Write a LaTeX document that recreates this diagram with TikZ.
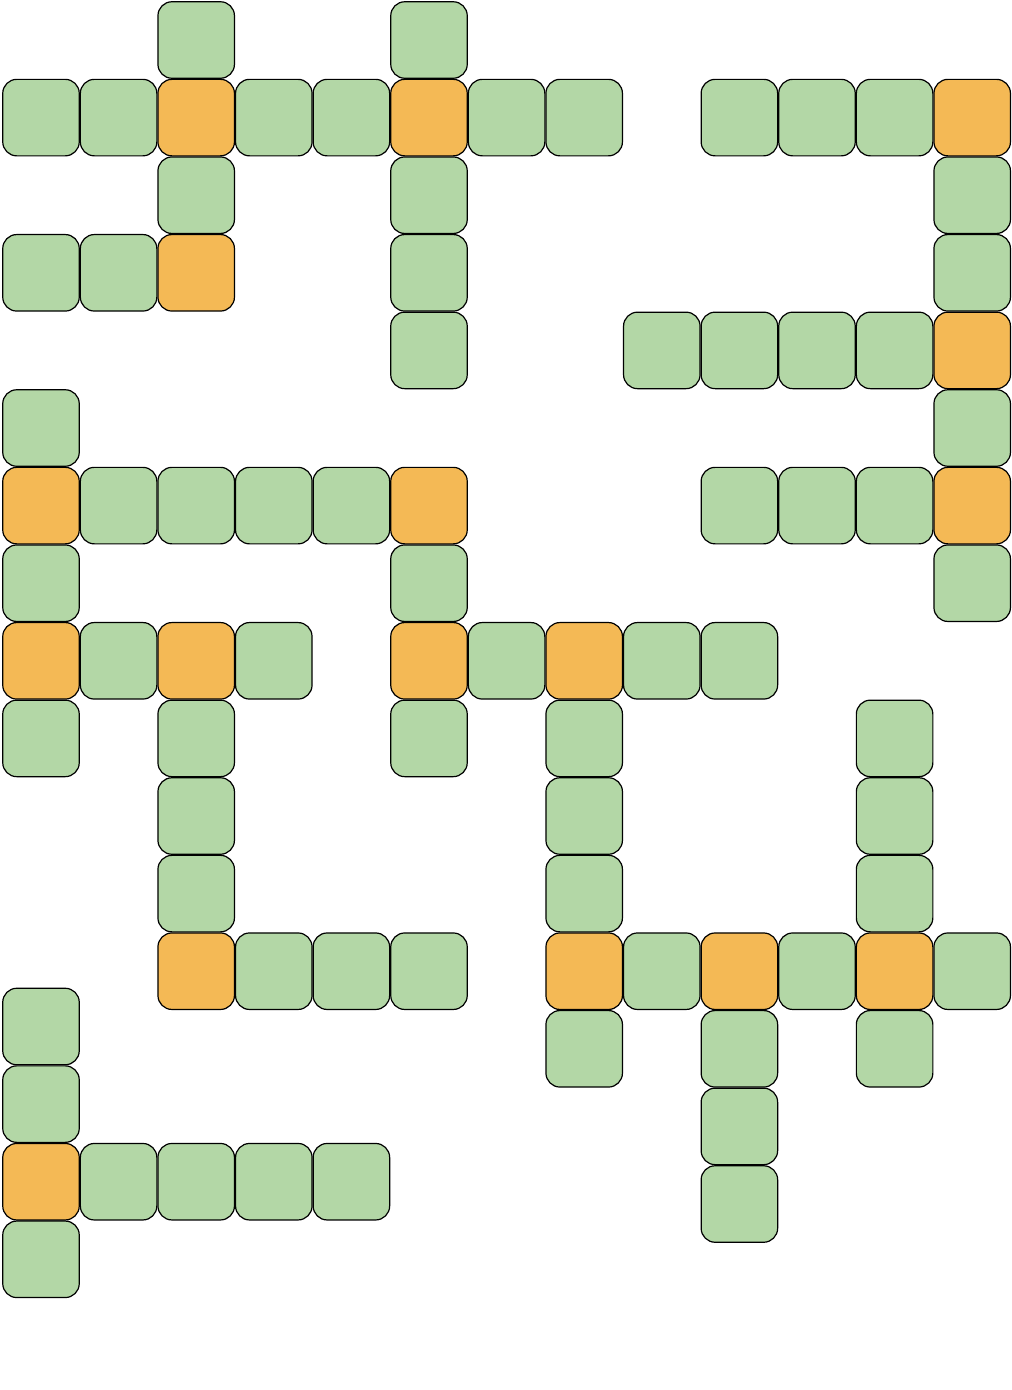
\documentclass[tikz,border=0pt]{standalone}
\usepackage{tikz}

\definecolor{cellgreen}{RGB}{179,215,166}
\definecolor{cellorange}{RGB}{244,185,85}

\def\cellsep{77.6}

\begin{document}
\begin{tikzpicture}[x=1pt,y=-1pt]
    \tikzstyle{cell}=[draw=black, line width=1.2pt, rounded corners=14pt, minimum size=76.5pt, inner sep=0pt]
    \tikzstyle{plain cell}=[cell, fill=cellgreen];
    \tikzstyle{cross cell}=[cell, fill=cellorange];

    \useasboundingbox (0,0) rectangle (1012,1390);

    % top left block
    \foreach \col / \row in {2/0,5/0,0/1,1/1,3/1,4/1,6/1,7/1,2/2,5/2,0/3,1/3,5/3,5/4}
        \node[plain cell] (P-\col-\row) at ({41+\cellsep*\col},{40+\cellsep*\row}) {};
    \foreach \col / \row in {2/1,5/1,2/3}
        \node[cross cell] (X-\col-\row) at ({41+\cellsep*\col},{40+\cellsep*\row}) {};

    % top right block
    \foreach \col / \row in {9/1,10/1,11/1,12/2,12/3,8/4,9/4,10/4,11/4,12/5,9/6,10/6,11/6,12/7}
        \node[plain cell] (P-\col-\row) at ({41+\cellsep*\col},{40+\cellsep*\row}) {};
    \foreach \col / \row in {12/1,12/4,12/6}
        \node[cross cell] (X-\col-\row) at ({41+\cellsep*\col},{40+\cellsep*\row}) {};

    % middle and lower blocks
    \foreach \col / \row in {0/5,1/6,2/6,3/6,4/6,0/7,5/7,1/8,3/8,6/8,8/8,9/8,
                             0/9,2/9,5/9,7/9,11/9,2/10,7/10,11/10,2/11,7/11,11/11,
                             3/12,4/12,5/12,8/12,10/12,12/12,7/13,9/13,11/13,9/14,9/15}
        \node[plain cell] (P-\col-\row) at ({41+\cellsep*\col},{40+\cellsep*\row}) {};
    \foreach \col / \row in {0/6,5/6,0/8,2/8,5/8,7/8,2/12,7/12,9/12,11/12}
        \node[cross cell] (X-\col-\row) at ({41+\cellsep*\col},{40+\cellsep*\row}) {};

    % bottom left block
    \foreach \name / \col / \row in {a/0/0,b/0/1,c/1/2,d/2/2,e/3/2,f/4/2,g/0/3}
        \node[plain cell] (B-\name) at ({41+\cellsep*\col},{1026.5+\cellsep*\row}) {};
    \node[cross cell] (B-x) at (41,{1026.5+\cellsep*2}) {};
\end{tikzpicture}
\end{document}
